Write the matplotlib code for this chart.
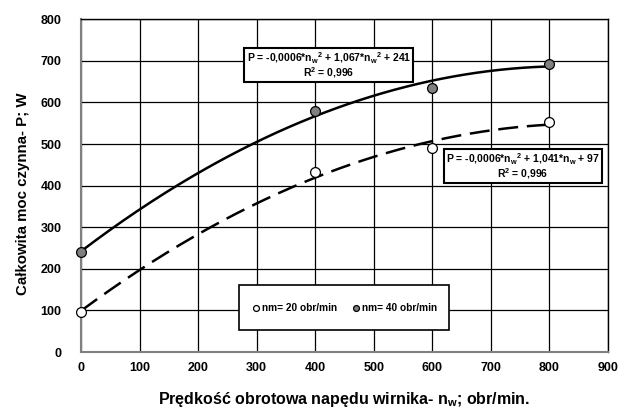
import matplotlib
matplotlib.use("Agg")
import matplotlib.pyplot as plt
from matplotlib.patches import Rectangle
import numpy as np

plt.rcParams['font.family'] = ['Liberation Sans', 'DejaVu Sans']
plt.rcParams['font.weight'] = 'bold'
plt.rcParams['mathtext.fontset'] = 'custom'
plt.rcParams['mathtext.rm'] = 'Liberation Sans:bold'
plt.rcParams['mathtext.bf'] = 'Liberation Sans:bold'
plt.rcParams['mathtext.default'] = 'rm'

# data
speed = [0, 400, 600, 800]
power_20 = [97, 432, 490, 553]
power_40 = [240, 580, 635, 693]
label_20 = "nm= 20 obr/min"
label_40 = "nm= 40 obr/min"
eq_40 = "P = -0,0006*n$_{w}$$^{2}$ + 1,067*n$_{w}$$^{2}$ + 241\nR$^{2}$ = 0,996"
eq_20 = "P = -0,0006*n$_{w}$$^{2}$ + 1,041*n$_{w}$ + 97\nR$^{2}$ = 0,996"
x_ticks = [0, 100, 200, 300, 400, 500, 600, 700, 800, 900]
y_ticks = [0, 100, 200, 300, 400, 500, 600, 700, 800]
xlabel = "Prędkość obrotowa napędu wirnika- n$_{w}$; obr/min."
ylabel = "Całkowita moc czynna- P; W"

fig = plt.figure(figsize=(6.23, 4.08), dpi=100)
ax = fig.add_axes([0.130, 0.137, 0.846, 0.816])

xs = np.linspace(0, 800, 200)
c20 = np.polyfit(speed, power_20, 2)
c40 = np.polyfit(speed, power_40, 2)
ax.plot(xs, np.polyval(c40, xs), color='black', lw=1.8, zorder=3)
ax.plot(xs, np.polyval(c20, xs), color='black', lw=1.8, dashes=(8, 3.5), zorder=3)

ax.scatter(speed, power_20, s=50, facecolor='white', edgecolor='black', lw=0.9, zorder=4, label=label_20, clip_on=False)
ax.scatter(speed, power_40, s=50, facecolor='#808080', edgecolor='black', lw=0.9, zorder=4, label=label_40, clip_on=False)

ax.set_xlim(0, 900)
ax.set_ylim(0, 800)
ax.set_xticks(x_ticks)
ax.set_yticks(y_ticks)
ax.grid(True, color='black', lw=0.9)
ax.set_axisbelow(True)
ax.tick_params(length=0, labelsize=9)
ax.tick_params(axis='x', pad=7)
ax.tick_params(axis='y', pad=14)
for lab in ax.get_xticklabels() + ax.get_yticklabels():
    lab.set_fontweight('bold')

for s in ['left', 'bottom']:
    ax.spines[s].set_color('#808080')
    ax.spines[s].set_linewidth(1.5)
for s in ['top', 'right']:
    ax.spines[s].set_color('black')
    ax.spines[s].set_linewidth(1.0)

ax.set_xlabel(xlabel, fontsize=11.5, fontweight='bold', labelpad=12)
ax.set_ylabel(ylabel, fontsize=10.8, fontweight='bold')
ax.yaxis.set_label_coords(-0.096, 0.476)

bbox = dict(boxstyle='square,pad=0.2', facecolor='white', edgecolor='black', lw=1.5)
ax.text(0.470, 0.862, eq_40, transform=ax.transAxes, ha='center', va='center',
        fontsize=7.5, fontweight='bold', bbox=bbox, linespacing=0.95, zorder=5)
ax.text(0.838, 0.559, eq_20, transform=ax.transAxes, ha='center', va='center',
        fontsize=7.5, fontweight='bold', bbox=bbox, linespacing=0.95, zorder=5)

leg_box = (0.30, 0.066, 0.398, 0.135)
ax.add_patch(Rectangle(leg_box[:2], leg_box[2], leg_box[3], transform=ax.transAxes,
                       facecolor='white', edgecolor='black', lw=1.2, zorder=5))
leg = ax.legend(loc='center', bbox_to_anchor=leg_box, ncol=2,
                prop={'weight': 'bold', 'size': 7.3}, frameon=False,
                handlelength=1.0, handletextpad=0.1, columnspacing=1.4, markerscale=0.6,
                borderpad=0.3, borderaxespad=0)
leg.set_zorder(6)

fig.savefig('out.png', dpi=100)
